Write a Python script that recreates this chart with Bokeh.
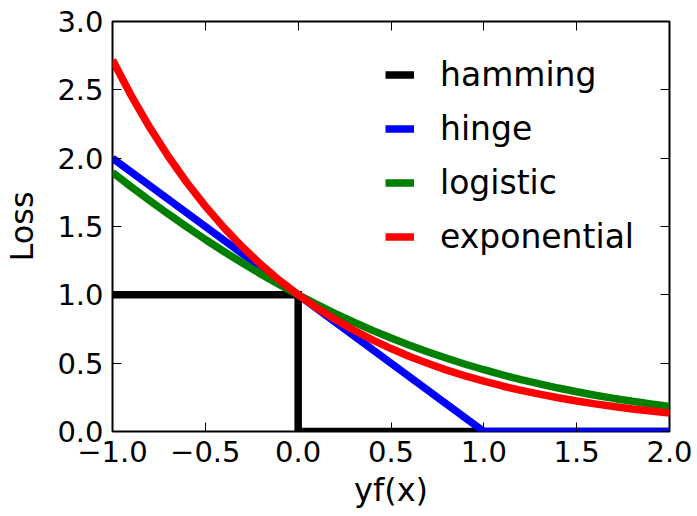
from bokeh.plotting import figure
from bokeh.models import (Range1d, FixedTicker, CustomJSTickFormatter, LinearAxis,
                          Legend, LegendItem)
from bokeh.embed import file_html
from bokeh.resources import INLINE

# ---- data ----
x_grid = [-1.0, -0.9, -0.8, -0.7, -0.6, -0.5, -0.4, -0.3, -0.2, -0.1, 0.0,
          0.1, 0.2, 0.3, 0.4, 0.5, 0.6, 0.7, 0.8, 0.9, 1.0,
          1.1, 1.2, 1.3, 1.4, 1.5, 1.6, 1.7, 1.8, 1.9, 2.0]
hamming_x = [-1.0, 0.0, 0.0, 2.0]
hamming_y = [1.0, 1.0, 0.0, 0.0]
hinge_x = [-1.0, 1.0, 2.0]
hinge_y = [2.0, 0.0, 0.0]
logistic_y = [1.895, 1.791, 1.690, 1.592, 1.497, 1.405, 1.317, 1.233, 1.151, 1.074, 1.000,
              0.930, 0.863, 0.800, 0.740, 0.684, 0.631, 0.582, 0.536, 0.492, 0.452,
              0.414, 0.380, 0.348, 0.318, 0.291, 0.265, 0.242, 0.221, 0.201, 0.183]
exponential_y = [2.718, 2.460, 2.226, 2.014, 1.822, 1.649, 1.492, 1.350, 1.221, 1.105, 1.000,
                 0.905, 0.819, 0.741, 0.670, 0.607, 0.549, 0.497, 0.449, 0.407, 0.368,
                 0.333, 0.301, 0.273, 0.247, 0.223, 0.202, 0.183, 0.165, 0.150, 0.135]
x_ticks = [-1.0, -0.5, 0.0, 0.5, 1.0, 1.5, 2.0]
y_ticks = [0.0, 0.5, 1.0, 1.5, 2.0, 2.5, 3.0]
series_names = ["hamming", "hinge", "logistic", "exponential"]
series_colors = ["#000000", "#0000ff", "#008000", "#ff0000"]
x_label = "yf(x)"
y_label = "Loss"

FONT = "DejaVu Sans"

p = figure(width=697, height=516, output_backend="svg", toolbar_location=None,
           x_range=Range1d(-1, 2), y_range=Range1d(0, 3),
           min_border_left=109, min_border_right=28, min_border_top=21,
           min_border_bottom=85, x_axis_location=None, y_axis_location=None)
p.grid.visible = False
p.outline_line_color = "black"
p.outline_line_width = 2
p.background_fill_color = "white"
p.border_fill_color = "white"

fmt = CustomJSTickFormatter(code="""
    const s = Math.abs(tick).toFixed(1);
    return (tick < -1e-9 ? "\\u2212" : "") + s;
""")

def make_axis(cls_loc, ticks, label=None, show_labels=True):
    ax = LinearAxis(ticker=FixedTicker(ticks=ticks))
    ax.axis_line_color = None
    ax.major_tick_in = 9
    ax.major_tick_out = 0
    ax.major_tick_line_color = "black"
    ax.major_tick_line_width = 1
    ax.minor_tick_line_color = None
    if show_labels:
        ax.formatter = fmt
        ax.major_label_text_font = FONT
        ax.major_label_text_font_size = "29px"
        ax.major_label_text_color = "black"
    else:
        ax.major_label_text_font_size = "0px"
        ax.major_label_text_alpha = 0
    if label:
        ax.axis_label = label
        ax.axis_label_text_font = FONT
        ax.axis_label_text_font_size = "32px"
        ax.axis_label_text_font_style = "normal"
        ax.axis_label_text_color = "black"
    p.add_layout(ax, cls_loc)
    return ax

xb = make_axis("below", x_ticks, x_label)
xb.major_label_standoff = 9
xb.axis_label_standoff = 6
yl = make_axis("left", y_ticks, y_label)
yl.major_label_standoff = 9
yl.axis_label_standoff = 13
make_axis("above", x_ticks, show_labels=False)
make_axis("right", y_ticks, show_labels=False)

lw = 7.5
r_ham = p.line(hamming_x, hamming_y, line_color=series_colors[0], line_width=lw, line_join="miter")
r_hin = p.line(hinge_x, hinge_y, line_color=series_colors[1], line_width=lw, line_join="miter")
r_log = p.line(x_grid, logistic_y, line_color=series_colors[2], line_width=lw)
r_exp = p.line(x_grid, exponential_y, line_color=series_colors[3], line_width=lw)

legend = Legend(items=[LegendItem(label=n, renderers=[r]) for n, r in
                       zip(series_names, [r_ham, r_hin, r_log, r_exp])],
                location=(273, 175), orientation="vertical")
legend.border_line_color = None
legend.background_fill_alpha = 0
legend.padding = 0
legend.margin = 0
legend.spacing = 15
legend.glyph_width = 29
legend.glyph_height = 33
legend.label_height = 33
legend.label_standoff = 26
legend.label_text_font = FONT
legend.label_text_font_size = "33px"
legend.label_text_color = "black"
p.add_layout(legend, "center")

open("out.html", "w").write(file_html(p, INLINE))
